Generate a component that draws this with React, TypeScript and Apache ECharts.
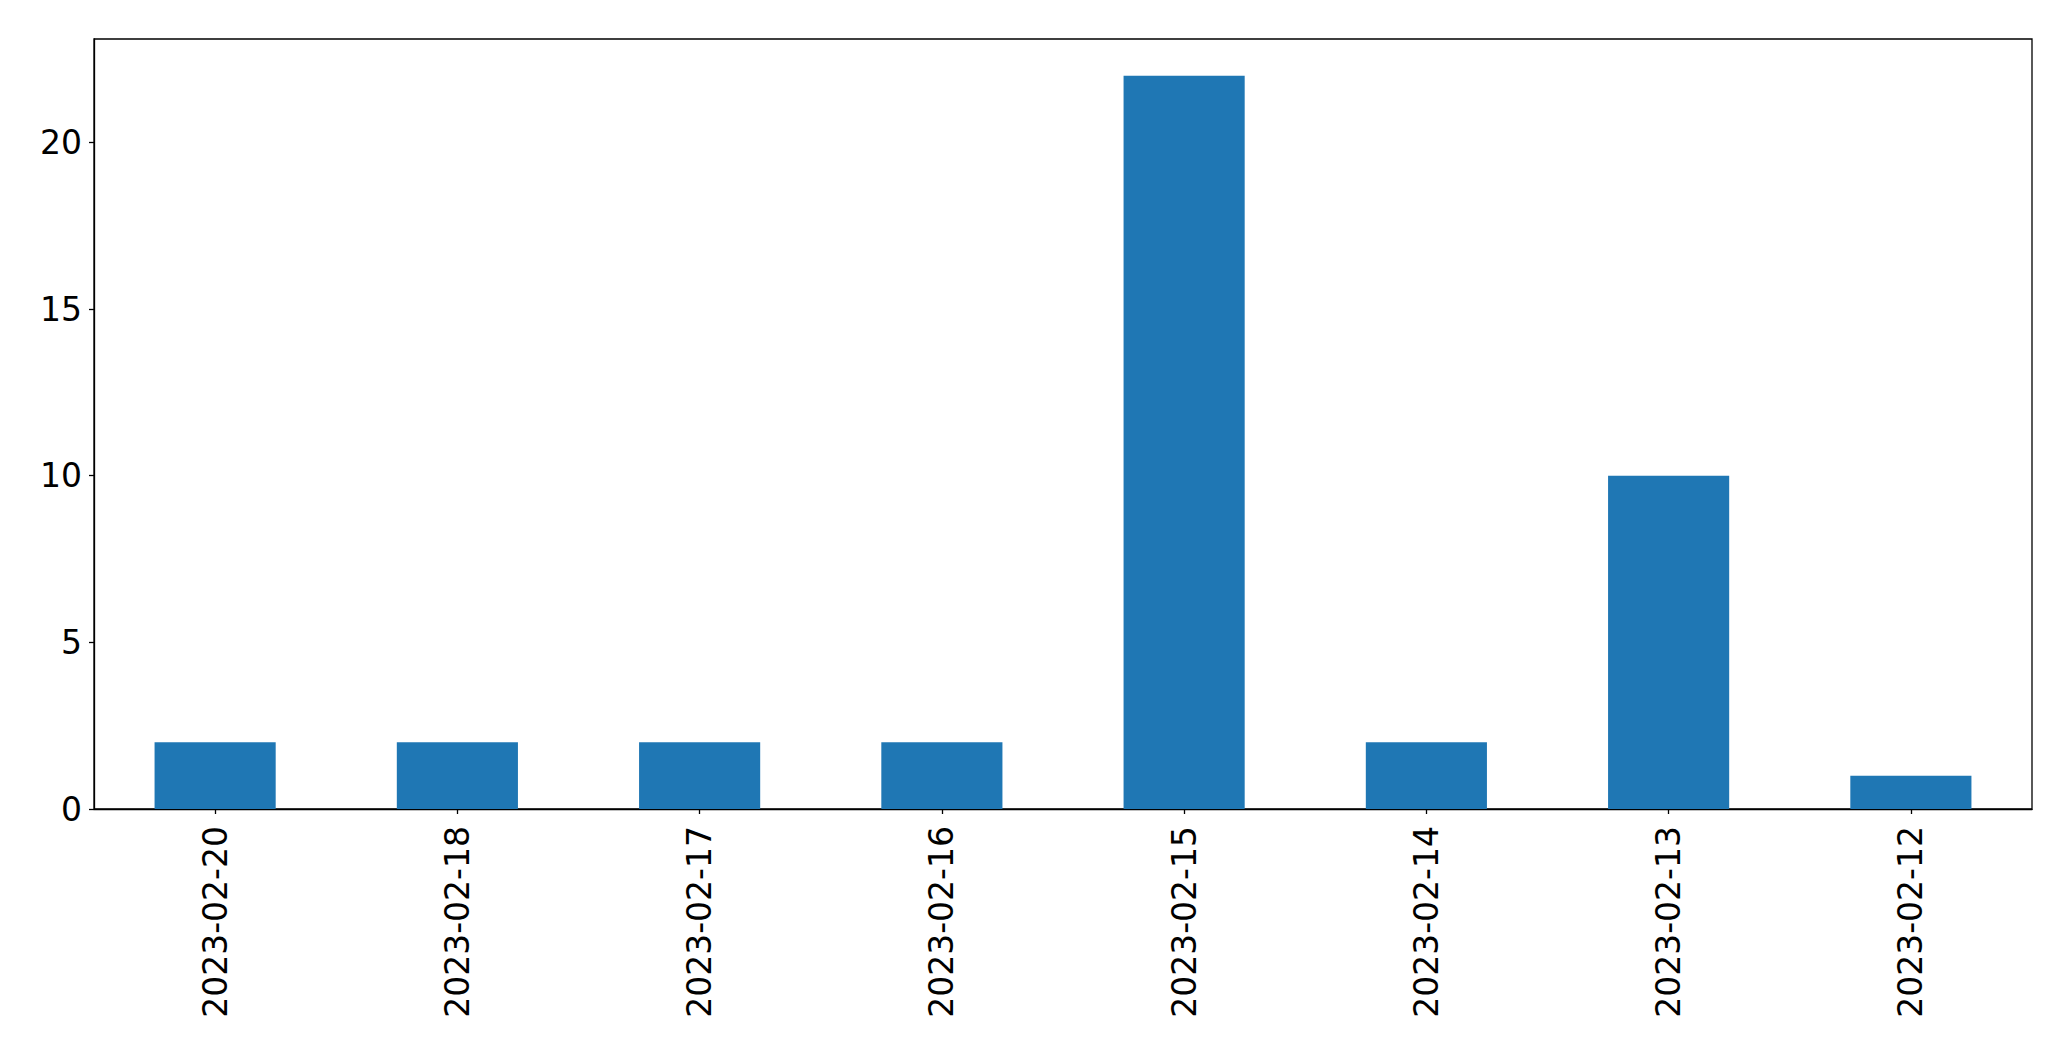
import React, { useEffect, useRef } from "react";
import * as echarts from "echarts";

const categories = [
  "2023-02-20",
  "2023-02-18",
  "2023-02-17",
  "2023-02-16",
  "2023-02-15",
  "2023-02-14",
  "2023-02-13",
  "2023-02-12",
];
const counts = [2, 2, 2, 2, 22, 2, 10, 1];
const yTicks = [0, 5, 10, 15, 20];

export default function App() {
  const ref = useRef<HTMLDivElement>(null);
  useEffect(() => {
    if (!ref.current) return;
    const chart = echarts.init(ref.current, null, { renderer: "svg" });
    const font = "DejaVu Sans";
    chart.setOption({
      animation: false,
      backgroundColor: "#ffffff",
      grid: {
        left: 94,
        top: 39,
        right: 39,
        bottom: 252,
        show: true,
        borderColor: "#000000",
        borderWidth: 1.3,
        containLabel: false,
      },
      xAxis: {
        type: "category",
        data: categories,
        boundaryGap: true,
        axisLine: { show: true, lineStyle: { color: "#000000", width: 1.3 } },
        axisTick: {
          show: true,
          alignWithLabel: true,
          length: 5,
          lineStyle: { color: "#000000", width: 1.3 },
        },
        axisLabel: {
          rotate: 90,
          margin: 17,
          color: "#000000",
          fontFamily: font,
          fontSize: 33,
          interval: 0,
        },
        splitLine: { show: false },
      },
      yAxis: {
        type: "value",
        min: 0,
        max: 23.1,
        interval: 5,
        axisLine: { show: true, lineStyle: { color: "#000000", width: 1.3 } },
        axisTick: {
          show: true,
          length: 5,
          lineStyle: { color: "#000000", width: 1.3 },
        },
        axisLabel: {
          margin: 12,
          color: "#000000",
          fontFamily: font,
          fontSize: 33,
          showMaxLabel: false,
          formatter: (v: number) => (yTicks.includes(v) ? String(v) : ""),
        },
        splitLine: { show: false },
      },
      series: [
        {
          type: "bar",
          data: counts,
          barWidth: "50%",
          itemStyle: { color: "#1f77b4" },
        },
      ],
    });
    return () => chart.dispose();
  }, []);
  return (
    <div
      ref={ref}
      style={{ position: "fixed", left: 0, top: 0, width: 2071, height: 1061 }}
    />
  );
}
